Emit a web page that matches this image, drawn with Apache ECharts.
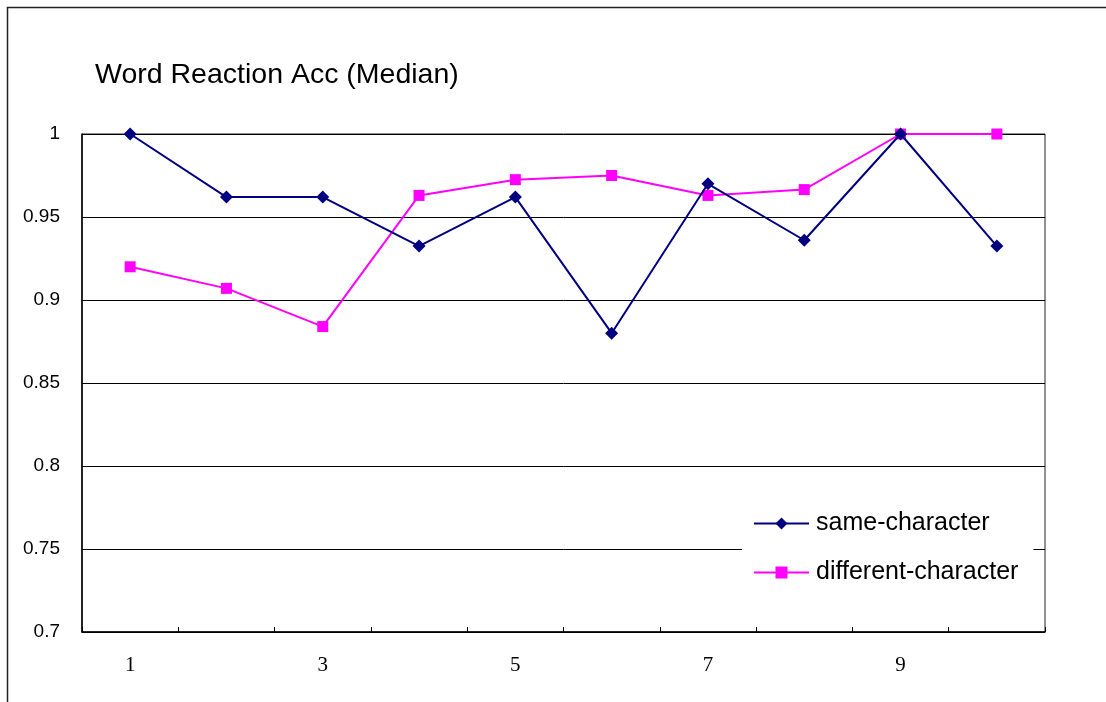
<!DOCTYPE html>
<html>
<head>
<meta charset="utf-8">
<script src="https://cdn.jsdelivr.net/npm/echarts@6/dist/echarts.min.js"></script>
<style>
  html, body { margin: 0; padding: 0; background: #fff; }
  #chart { width: 1106px; height: 702px; }
</style>
</head>
<body>
<div id="chart"></div>
<script>
// Trial numbers on the category axis
const categories = ['1', '2', '3', '4', '5', '6', '7', '8', '9', '10'];
// Median word-reaction accuracy per trial
const sameCharacter = [1.0, 0.962, 0.962, 0.9325, 0.962, 0.88, 0.97, 0.936, 1.0, 0.9325];
const differentCharacter = [0.92, 0.907, 0.884, 0.963, 0.9725, 0.975, 0.963, 0.9665, 1.0, 1.0];
const seriesNames = ['same-character', 'different-character'];
const titleText = 'Word Reaction Acc (Median)';

const chart = echarts.init(document.getElementById('chart'), null, { renderer: 'canvas' });

chart.setOption({
  backgroundColor: '#ffffff',
  animation: false,
  title: {
    text: titleText,
    left: 90,
    top: 56,
    textStyle: { fontFamily: 'Liberation Sans, Arial, sans-serif', fontSize: 28.5, fontWeight: 'normal', color: '#000' }
  },
  graphic: [{
    type: 'rect',
    shape: { x: 7.5, y: 7.5, width: 1300, height: 900 },
    style: { fill: 'none', stroke: '#222', lineWidth: 1.5 },
    silent: true,
    z: -10
  }],
  legend: {
    orient: 'vertical',
    left: 742,
    top: 505,
    padding: [6, 15, 16, 11],
    itemGap: 24,
    itemWidth: 55,
    itemHeight: 15,
    backgroundColor: '#ffffff',
    textStyle: { fontFamily: 'Liberation Sans, Arial, sans-serif', fontSize: 25, color: '#000', padding: [0, 0, 0, 2] },
    data: seriesNames
  },
  grid: {
    left: 82, right: 61, top: 134, bottom: 70,
    show: true,
    borderColor: '#222',
    borderWidth: 1
  },
  xAxis: {
    type: 'category',
    data: categories,
    boundaryGap: true,
    axisLine: { lineStyle: { color: '#000', width: 1.5 } },
    axisTick: { show: true, inside: true, length: 5, interval: 0, lineStyle: { color: '#000' } },
    axisLabel: {
      interval: 1,
      margin: 23,
      fontFamily: 'Liberation Serif, Times New Roman, serif',
      fontSize: 21,
      color: '#000'
    },
    splitLine: { show: false }
  },
  yAxis: {
    type: 'value',
    min: 0.7,
    max: 1,
    interval: 0.05,
    axisLine: { show: true, lineStyle: { color: '#000', width: 1.5 } },
    axisTick: { show: false },
    axisLabel: {
      margin: 22,
      fontFamily: 'Liberation Sans, Arial, sans-serif',
      fontSize: 19,
      color: '#000',
      formatter: v => String(Math.round(v * 100) / 100)
    },
    splitLine: { show: true, lineStyle: { color: '#000', width: 1 } }
  },
  series: [
    {
      name: seriesNames[0],
      type: 'line',
      data: sameCharacter,
      symbol: 'diamond',
      symbolSize: 13,
      itemStyle: { color: '#000080' },
      lineStyle: { color: '#000080', width: 2 },
      z: 3
    },
    {
      name: seriesNames[1],
      type: 'line',
      data: differentCharacter,
      symbol: 'rect',
      symbolSize: 11,
      itemStyle: { color: '#ff00ff' },
      lineStyle: { color: '#ff00ff', width: 2 },
      z: 2
    }
  ]
});
</script>
</body>
</html>
